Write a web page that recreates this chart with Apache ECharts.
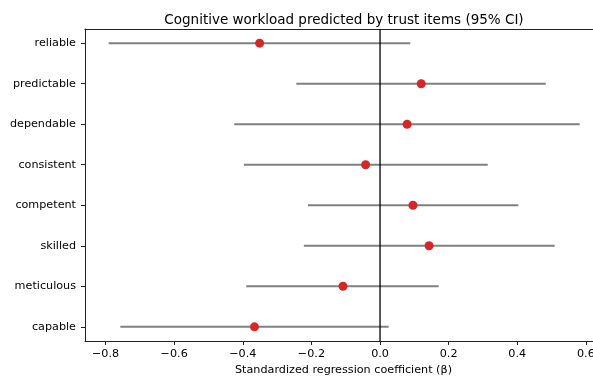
<!DOCTYPE html>
<html><head><meta charset="utf-8">
<script src="https://cdn.jsdelivr.net/npm/echarts@6/dist/echarts.min.js"></script>
<style>html,body{margin:0;padding:0;background:#fff}#c{width:593px;height:377px}</style>
</head><body><div id="c"></div>
<script>
const categories = ['reliable','predictable','dependable','consistent','competent','skilled','meticulous','capable'];
const beta  = [-0.351, 0.120, 0.079, -0.042, 0.096, 0.143, -0.108, -0.366];
const lower = [-0.791, -0.244, -0.425, -0.397, -0.210, -0.222, -0.390, -0.757];
const upper = [0.088, 0.483, 0.582, 0.314, 0.403, 0.509, 0.171, 0.025];
const xTicks = [-0.8, -0.6, -0.4, -0.2, 0.0, 0.2, 0.4, 0.6];

const font = 'DejaVu Sans';
const chart = echarts.init(document.getElementById('c'), null, {renderer:'canvas'});
const ciData = categories.map((c,i)=>[lower[i], upper[i], i]);
const ptData = categories.map((c,i)=>[beta[i], i]);
const fmt = v => (v < 0 ? '\u2212' : '') + Math.abs(v).toFixed(1);
chart.setOption({
  animation:false,
  title:{text:'Cognitive workload predicted by trust items (95% CI)', left:339, top:8, textAlign:'center',
    textStyle:{fontFamily:font, fontSize:13.5, fontWeight:'normal', color:'#000'}},
  grid:{left:85, right:-9, top:29, bottom:36, containLabel:false, outerBoundsMode:'none'},
  xAxis:[{type:'value', min:-0.86, max:0.647, position:'bottom',
    name:'Standardized regression coefficient (\u03B2)', nameLocation:'middle', nameGap:24,
    nameTextStyle:{fontFamily:font, fontSize:11.2, color:'#000', verticalAlign:'top'},
    axisLine:{show:true, onZero:false, lineStyle:{color:'#222', width:1}},
    axisTick:{show:true, length:4, customValues:xTicks, lineStyle:{color:'#222'}},
    axisLabel:{customValues:xTicks, formatter:fmt, fontFamily:font, fontSize:11.2, color:'#000', margin:8},
    splitLine:{show:false}},
   {type:'value', min:-0.86, max:0.647, position:'top',
    axisLine:{show:true, onZero:false, lineStyle:{color:'#222', width:1}},
    axisTick:{show:false}, axisLabel:{show:false}, splitLine:{show:false}}],
  yAxis:{type:'value', inverse:true, min:-0.35, max:7.35,
    axisLine:{show:true, onZero:false, lineStyle:{color:'#222', width:1}},
    axisTick:{show:true, length:4, customValues:[0,1,2,3,4,5,6,7], lineStyle:{color:'#222'}},
    axisLabel:{customValues:[0,1,2,3,4,5,6,7], formatter:v=>categories[Math.round(v)],
      fontFamily:font, fontSize:11.2, color:'#000', margin:9},
    splitLine:{show:false}},
  series:[
    {type:'custom', xAxisIndex:0, data:ciData, z:2,
     renderItem:(params, api)=>{
       const a = api.coord([api.value(0), api.value(2)]);
       const b = api.coord([api.value(1), api.value(2)]);
       return {type:'line', shape:{x1:a[0], y1:a[1], x2:b[0], y2:b[1]},
         style:{stroke:'#808080', lineWidth:2}};
     }},
    {type:'line', xAxisIndex:0, data:[[0,-0.35],[0,7.35]], symbol:'none', z:3,
     lineStyle:{color:'#000', width:1.3}},
    {type:'scatter', xAxisIndex:0, data:ptData, symbol:'circle', symbolSize:9, z:4,
     itemStyle:{color:'#d62728', opacity:1}}
  ]
});
</script></body></html>
